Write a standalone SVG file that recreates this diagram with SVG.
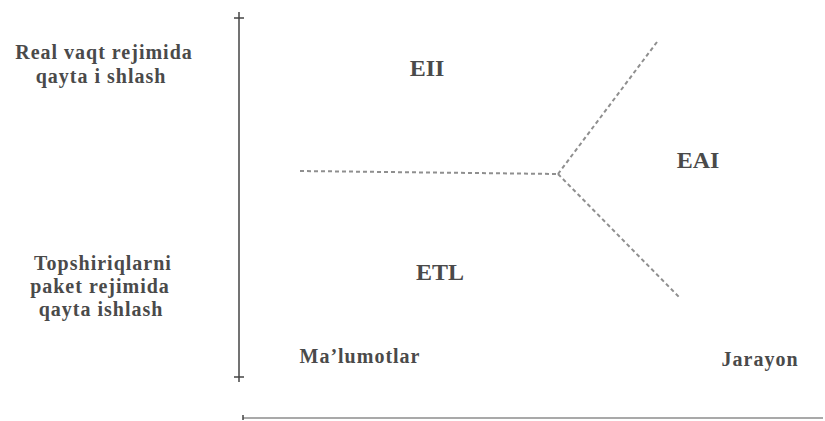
<svg xmlns="http://www.w3.org/2000/svg" width="825" height="421" viewBox="0 0 825 421">
<style>
text{font-family:"Liberation Serif","Times New Roman",serif;font-weight:bold;fill:#4a4a4a;font-size:20px;text-anchor:middle;letter-spacing:1px}
.big{font-size:24px;letter-spacing:0}
.axis{stroke:#444;stroke-width:1.5;fill:none}
.dash{stroke:#8f8f8f;stroke-width:2;stroke-dasharray:4,3;fill:none}
</style>
<rect width="825" height="421" fill="#fff"/>
<g id="axes">
<line class="axis" x1="239" y1="12" x2="239" y2="382"/>
<line class="axis" x1="234" y1="18" x2="244" y2="18"/>
<line class="axis" x1="234" y1="377" x2="244" y2="377"/>
<line class="axis" x1="243" y1="418" x2="823" y2="418" style="stroke:#555;stroke-width:1.2"/>
<line class="axis" x1="243" y1="415" x2="243" y2="420"/>
</g>
<g id="connectors">
<path class="dash" d="M300 171 L558 174"/>
<path class="dash" d="M558 174 L657 42"/>
<path class="dash" d="M558 174 L680 298"/>
</g>
<g id="label-realtime">
<text x="104" y="59">Real vaqt  rejimida</text>
<text x="101" y="83">qayta  i shlash</text>
</g>
<g id="label-batch">
<text x="103" y="270">Topshiriqlarni</text>
<text x="100" y="293">paket rejimida</text>
<text x="101" y="316">qayta ishlash</text>
</g>
<g id="node-EII"><text class="big" x="427" y="76">EII</text></g>
<g id="node-EAI"><text class="big" x="698" y="168">EAI</text></g>
<g id="node-ETL"><text class="big" x="440" y="280">ETL</text></g>
<g id="label-data"><text x="360" y="363">Ma’lumotlar</text></g>
<g id="label-process"><text x="760" y="366">Jarayon</text></g>
</svg>
